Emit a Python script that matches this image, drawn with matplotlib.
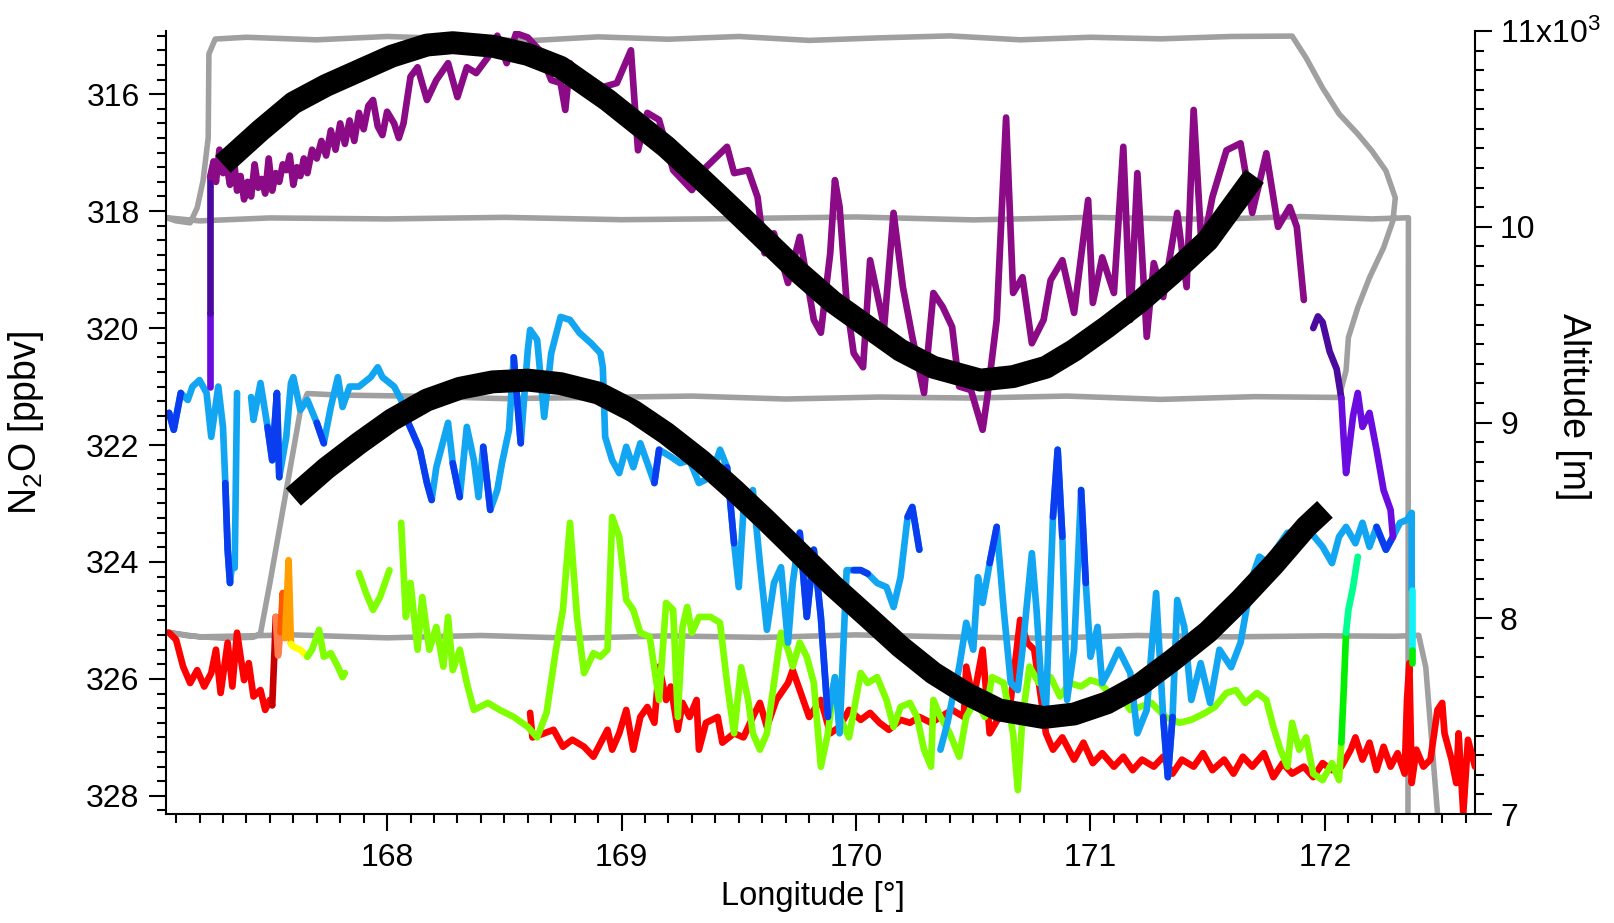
import numpy as np
import matplotlib
matplotlib.use('Agg')
import matplotlib.pyplot as plt
from matplotlib.ticker import MultipleLocator, FixedLocator, FixedFormatter

plt.rcParams['font.family'] = ['Liberation Sans', 'DejaVu Sans']
plt.rcParams['mathtext.fontset'] = 'custom'
plt.rcParams['mathtext.rm'] = 'Liberation Sans'
plt.rcParams['mathtext.it'] = 'Liberation Sans:italic'

nan = np.nan

# --- flight altitude (right axis) ---
gray_lon = [172.354, 172.356,
            172.20, 171.90, 171.50, 171.00, 170.50, 170.00, 169.50, 169.00, 168.50, 168.00, 167.50, 167.20, 167.06,
            167.10, 167.16, 167.19, 167.215, 167.237, 167.24, 167.267,
            167.40, 167.70, 168.00, 168.30, 168.60, 168.90, 169.20, 169.50, 169.80, 170.10, 170.40, 170.70,
            171.00, 171.30, 171.60, 171.86,
            171.92, 171.99, 172.06, 172.14, 172.20, 172.26, 172.30, 172.29, 172.25, 172.19, 172.14, 172.10,
            172.09, 172.06,
            171.70, 171.30, 170.90, 170.50, 170.10, 169.70, 169.30, 168.90, 168.50, 168.10, 167.80, 167.66,
            167.63, 167.57, 167.50, 167.46, 167.43,
            167.30, 167.15, 167.06,
            167.20, 167.60, 168.00, 168.40, 168.80, 169.20, 169.60, 170.00, 170.40, 170.80, 171.20, 171.60,
            172.00, 172.30, 172.40,
            172.43, 172.48, 172.49]
gray_alt = [6900, 10046,
            10040, 10052, 10038, 10048, 10035, 10050, 10042, 10036, 10048, 10040, 10045, 10030, 10046,
            10030, 10020, 10097, 10235, 10454, 10883, 10959,
            10968, 10955, 10972, 10960, 10950, 10970, 10958, 10972, 10952, 10965, 10975, 10955,
            10968, 10960, 10972, 10974,
            10862, 10709, 10577, 10474, 10388, 10286, 10148, 10031, 9893, 9740, 9587, 9434,
            9265, 9128,
            9132, 9118, 9135, 9125, 9130, 9120, 9135, 9128, 9122, 9135, 9140, 9148,
            9061, 8653, 8179, 7923, 7903,
            7898, 7910, 7929,
            7905, 7915, 7900, 7912, 7898, 7910, 7902, 7915, 7905, 7898, 7912, 7905,
            7910, 7908, 7913,
            7750, 7005, 6950]

# --- N2O, upper leg (~11 km) ---
purple_lon = [167.245, 167.26, 167.27, 167.285, 167.30, 167.315, 167.33, 167.345, 167.36, 167.375,
              167.39, 167.405, 167.42, 167.435, 167.45, 167.465, 167.48, 167.495, 167.51, 167.525,
              167.54, 167.555, 167.57, 167.585, 167.60, 167.615, 167.63, 167.645, 167.66, 167.68,
              167.70, 167.72, 167.74, 167.76, 167.78, 167.80, 167.82, 167.84, 167.86, 167.88,
              167.90, 167.92, 167.94, 167.96, 167.98, 168.00, 168.03, 168.05, 168.07, 168.10,
              168.13, 168.17, 168.21, 168.26, 168.30, 168.34, 168.38, 168.43, 168.47, 168.51,
              168.55, 168.60, 168.65, 168.70, 168.74, 168.76, 168.78, 168.85, 168.92, 168.98,
              169.04, 169.07, 169.11, 169.16, 169.22, 169.30, 169.36, 169.45, 169.48, 169.54,
              169.58, 169.61, 169.65, 169.71, 169.76, 169.82, 169.85, 169.89, 169.91, 169.93,
              169.96, 169.99, 170.03, 170.06, 170.12, 170.16, 170.20, 170.24, 170.29, 170.33,
              170.37, 170.41, 170.44, 170.49, 170.54, 170.56, 170.60, 170.64, 170.67, 170.71,
              170.75, 170.80, 170.83, 170.88, 170.93, 170.99, 171.01, 171.05, 171.10, 171.14,
              171.17, 171.20, 171.24, 171.27, 171.31, 171.37, 171.41, 171.44, 171.475, 171.52,
              171.58, 171.64, 171.69, 171.75, 171.80, 171.85, 171.88, 171.91]
purple_n2o = [317.42, 317.15, 317.5, 316.95, 317.35, 317.2, 317.55, 317.05, 317.65, 317.4,
              317.8, 317.5, 317.75, 317.2, 317.6, 317.45, 317.7, 317.1, 317.65, 317.35,
              317.5, 317.2, 317.3, 317.05, 317.55, 317.25, 317.4, 317.1, 317.35, 316.95,
              317.1, 316.8, 317.05, 316.62, 316.95, 316.5, 316.85, 316.45, 316.8, 316.32,
              316.6, 316.2, 316.1, 316.55, 316.7, 316.3, 316.5, 316.75, 316.5, 315.7,
              315.54, 316.1, 315.76, 315.47, 316.05, 315.54, 315.64, 315.37, 315.0, 315.47,
              314.96, 315.03, 315.25, 315.76, 315.81, 316.27, 315.47, 315.81, 315.88, 315.81,
              315.25, 316.96, 316.32, 316.44, 317.3, 317.64, 317.25, 316.9, 317.35, 317.3,
              317.76, 318.72, 318.38, 319.23, 318.44, 319.86, 320.08, 318.72, 317.47, 317.93,
              319.57, 320.43, 320.67, 318.84, 319.98, 318.03, 319.3, 320.15, 321.11, 319.4,
              319.64, 319.98, 321.0, 321.06, 321.74, 321.18, 319.86, 316.4, 319.4, 319.13,
              320.26, 319.86, 319.18, 318.84, 319.74, 317.81, 319.57, 318.79, 319.40, 316.9,
              319.86, 317.35, 320.15, 318.89, 319.47, 318.03, 319.3, 316.27, 318.7, 317.76,
              316.96, 316.84, 318.03, 317.01, 318.27, 317.93, 318.27, 319.52]

# climb at the start and descent at the end of the upper leg
climb_left_lon = [167.245, 167.245, 167.245]
climb_left_n2o = [321.0, 319.74, 317.42]
indigo_lon = [171.95, 171.97, 171.99, 172.02, 172.05, 172.07]
indigo_n2o = [320.0, 319.8, 319.9, 320.4, 320.7, 321.2]
violet_lon = [172.07, 172.08, 172.09, 172.12, 172.14, 172.16, 172.19, 172.22, 172.25, 172.28, 172.29]
violet_n2o = [321.2, 321.9, 322.48, 321.5, 321.11, 321.69, 321.45, 322.08, 322.77, 323.11, 323.57]

# --- N2O, ~10 km leg ---
blue_lon = [167.07, 167.09, 167.12, 167.15, 167.17, 167.20, 167.23, 167.25, 167.28, 167.30, 167.31, 167.32,
            167.33, 167.34, 167.35, 167.36, nan, 167.42, 167.43, 167.46, 167.49, 167.51, 167.53, 167.54,
            167.57, 167.59, 167.60, 167.63, 167.66, 167.70, 167.73, 167.76, 167.79, 167.81, 167.84, 167.88,
            167.93, 167.96, 167.98, 168.03, 168.06, 168.09, 168.11, 168.14, 168.17, 168.19, 168.21, 168.26,
            168.28, 168.31, 168.34, 168.37, 168.39, 168.41, 168.44, 168.47, 168.49, 168.52, 168.54, 168.57,
            168.60, 168.61, 168.64, 168.67, 168.70, 168.74, 168.78, 168.82, 168.87, 168.91, 168.92, 168.93,
            168.96, 168.99, 169.02, 169.05, 169.08, 169.11, 169.14, 169.16, 169.21, 169.25, 169.29, 169.33,
            169.38, 169.42, 169.45, 169.48, 169.50, 169.52, 169.56, 169.59, 169.62, 169.65, 169.68, 169.71,
            169.73, 169.76, 169.79, 169.82, 169.85, 169.88, 169.91, 169.93, 169.96, 169.99, 170.02, 170.05,
            170.09, 170.13, 170.16, 170.19, 170.22, 170.24, 170.27, nan, 170.36, 170.39, 170.41, 170.44,
            170.47, 170.50, 170.52, 170.54, 170.57, 170.60, 170.63, 170.66, 170.69, 170.71, 170.75, 170.77,
            170.79, 170.81, 170.84, 170.86, 170.88, 170.90, 170.93, 170.96, 170.98, 171.00, 171.03, 171.05,
            171.08, 171.12, 171.17, 171.20, 171.24, 171.28, 171.31, 171.33, 171.35, 171.37, 171.40, 171.43,
            171.47, 171.51, 171.55, 171.60, 171.64, 171.67, 171.69, 171.72, 171.76, 171.79, 171.84, 171.88,
            171.93, 171.99, 172.03, 172.06, 172.09, 172.13, 172.16, 172.19, 172.22, 172.26, 172.29, 172.32,
            172.35, 172.37, 172.37]
blue_n2o = [321.45, 321.74, 321.11, 321.23, 321.0, 320.89, 321.11, 321.86, 321.0, 321.69, 322.65, 323.79,
            324.36, 324.0, 324.1, 321.11, nan, 321.18, 321.57, 320.94, 321.69, 322.26, 321.11, 322.55,
            321.86, 320.94, 320.84, 321.4, 321.23, 321.62, 321.97, 321.35, 320.84, 321.35, 321.0, 321.0,
            320.84, 320.67, 320.84, 321.0, 321.23, 321.62, 321.80, 322.08, 322.65, 322.94, 322.38, 321.62,
            322.31, 322.89, 321.69, 322.26, 322.89, 322.03, 323.11, 322.77, 322.31, 321.74, 320.5, 321.97,
            320.38, 320.03, 320.2, 321.52, 320.43, 319.81, 319.86, 320.08, 320.26, 320.43, 320.67, 321.86,
            322.26, 322.48, 322.03, 322.38, 321.97, 322.31, 322.65, 322.08, 322.2, 322.31, 322.26, 322.65,
            322.55, 322.08, 322.38, 323.68, 324.43, 323.11, 322.77, 324.02, 325.16, 324.36, 324.09, 325.38,
            324.36, 323.5, 324.94, 323.79, 324.94, 326.65, 325.97, 326.93, 324.14, 324.14, 324.14, 324.2,
            324.36, 324.43, 324.77, 324.26, 323.23, 323.06, 323.79, nan, 327.21, 326.75, 326.36, 325.8,
            325.04, 325.5, 324.26, 324.7, 324.02, 323.4, 324.82, 326.07, 326.19, 325.5, 323.85, 324.82,
            326.07, 326.53, 323.23, 322.08, 323.57, 326.36, 325.5, 322.77, 324.36, 325.62, 325.11, 326.07,
            325.85, 325.5, 325.9, 326.93, 326.53, 324.53, 326.65, 327.68, 326.65, 324.65, 325.11, 326.36,
            325.73, 326.41, 325.5, 325.8, 325.38, 324.7, 324.26, 323.91, 324.02, 323.79, 323.5, 323.5,
            323.45, 323.74, 324.02, 323.57, 323.4, 323.68, 323.33, 323.74, 323.4, 323.79, 323.57, 323.33,
            323.28, 323.16, 324.48]
blue_dark_spans = [(167.06, 167.13), (167.305, 167.335), (167.48, 167.55), (167.69, 167.74),
                   (168.08, 168.20), (168.27, 168.32), (168.40, 168.45), (168.53, 168.58),
                   (169.13, 169.17), (169.44, 169.49), (169.75, 169.89), (169.98, 170.06),
                   (170.21, 170.28), (170.56, 170.61), (170.83, 170.89), (170.95, 170.99),
                   (171.30, 171.36), (172.21, 172.30)]
cyan_lon = [172.37, 172.37]
cyan_n2o = [324.48, 325.5]

# --- N2O, ~9.1 km leg ---
green_lon = [167.66, 167.68, 167.71, 167.73, 167.76, 167.79, 167.81, 167.82, nan, 167.88, 167.91, 167.94,
             167.97, 168.01, nan, 168.06, 168.08, 168.10, 168.13, 168.15, 168.18, 168.21, 168.24, 168.26,
             168.28, 168.31, 168.34, 168.37, 168.43, 168.48, 168.54, 168.60, 168.64, 168.68, 168.72, 168.75,
             168.78, 168.81, 168.84, 168.88, 168.91, 168.94, 168.96, 168.99, 169.02, 169.05, 169.08, 169.12,
             169.16, 169.19, 169.22, 169.24, 169.26, 169.28, 169.30, 169.33, 169.38, 169.42, 169.45, 169.48,
             169.51, 169.54, 169.56, 169.59, 169.62, 169.65, 169.68, 169.71, 169.73, 169.76, 169.79, 169.82,
             169.85, 169.88, 169.91, 169.93, 169.97, 170.02, 170.05, 170.09, 170.13, 170.16, 170.19, 170.23,
             170.26, 170.29, 170.32, 170.33, 170.36, 170.40, 170.44, 170.47, 170.51, 170.55, 170.58, 170.63,
             170.67, 170.69, 170.71, 170.74, 170.78, 170.81, 170.83, 170.87, 170.91, 170.96, 171.00, 171.04,
             171.08, 171.13, 171.17, 171.21, 171.26, 171.32, 171.38, 171.43, 171.49, 171.53, 171.58, 171.62,
             171.66, 171.71, 171.75, 171.78, 171.81, 171.84, 171.86, 171.89, 171.92, 171.95, 171.99, 172.03,
             172.06, 172.07]
green_n2o = [325.62, 325.5, 325.16, 325.62, 325.56, 325.79, 325.97, 325.9, nan, 324.19, 324.53, 324.82,
             324.6, 324.14, nan, 323.33, 324.94, 324.36, 325.5, 324.6, 325.5, 325.11, 325.79, 324.94,
             325.85, 325.5, 326.07, 326.53, 326.41, 326.53, 326.65, 326.82, 327.0, 326.58, 325.5, 324.82,
             323.33, 324.94, 325.9, 325.56, 325.62, 325.5, 323.23, 323.57, 324.65, 324.82, 325.21, 325.28,
             326.36, 324.7, 324.82, 326.65, 325.11, 324.77, 325.21, 324.94, 324.94, 325.04, 326.07, 326.93,
             325.8, 326.36, 326.93, 327.21, 326.93, 326.07, 325.21, 325.5, 325.79, 325.38, 325.62, 326.07,
             327.5, 326.93, 325.97, 326.65, 327.0, 325.9, 326.07, 325.97, 326.36, 326.82, 326.48, 326.41,
             326.65, 327.21, 327.5, 326.36, 326.65, 326.93, 327.33, 326.65, 326.36, 326.65, 325.97, 326.07,
             326.93, 327.9, 326.65, 325.79, 326.07, 325.97, 325.97, 326.3, 326.07, 326.13, 326.02, 326.07,
             326.24, 326.3, 326.53, 326.48, 326.41, 326.65, 326.75, 326.7, 326.58, 326.48, 326.24, 326.19,
             326.41, 326.24, 326.36, 326.82, 327.21, 327.5, 326.75, 327.21, 327.0, 327.62, 327.73, 327.44,
             327.73, 327.09]
climb_right_lon = [172.07, 172.08, 172.09, 172.10, 172.12, 172.14]
climb_right_n2o = [327.09, 326.2, 325.21, 324.82, 324.43, 323.91]

# --- N2O, ~7.9 km leg ---
red_a_lon = [167.07, 167.10, 167.13, 167.16, 167.19, 167.22, 167.25, 167.27, 167.29, 167.32, 167.34, 167.36,
             167.39, 167.41, 167.43, 167.46, 167.48, 167.50, 167.51]
red_a_n2o = [325.21, 325.33, 325.79, 326.07, 325.85, 326.13, 325.9, 325.5, 326.24, 325.38, 326.13, 325.21,
             326.02, 325.73, 326.3, 326.19, 326.53, 326.36, 326.45]
riser_lon = [167.51, 167.52, 167.525, 167.535, 167.545, 167.555, 167.565, 167.58, 167.59, 167.60, 167.63, 167.66]
riser_n2o = [326.45, 325.5, 324.94, 325.6, 325.2, 324.53, 325.3, 323.97, 325.4, 325.45, 325.5, 325.62]
red_b_lon = [168.61, 168.62, 168.67, 168.71, 168.75, 168.79, 168.84, 168.88, 168.91, 168.94, 168.96, 168.99,
             169.02, 169.05, 169.08, 169.11, 169.14, 169.16, 169.19, 169.21, 169.24, 169.26, 169.29, 169.32,
             169.33, 169.36, 169.41, 169.43, 169.48, 169.52, 169.56, 169.59, 169.62, 169.66, 169.71, 169.73,
             169.76, 169.80, 169.85, 169.89, 169.93, 169.97, 170.02, 170.06, 170.10, 170.14, 170.19, 170.23,
             170.27, 170.32, 170.36, 170.41, 170.46, 170.47, 170.50, 170.54, 170.57, 170.61, 170.66, 170.70,
             170.73, 170.76, 170.78, 170.81, 170.84, 170.88, 170.93, 170.97, 171.01, 171.05, 171.10, 171.14,
             171.18, 171.22, 171.27, 171.31, 171.35, 171.39, 171.44, 171.48, 171.52, 171.57, 171.61, 171.65,
             171.69, 171.74, 171.78, 171.82, 171.86, 171.91, 171.95, 171.99, 172.03, 172.07, 172.11, 172.13,
             172.16, 172.19, 172.22, 172.25, 172.28, 172.31, 172.34, 172.35, 172.36, 172.37, 172.39, 172.42,
             172.45, 172.48, 172.50, 172.51, 172.54, 172.56, 172.57, 172.59, 172.61, 172.64]
red_b_n2o = [326.58, 327.0, 326.93, 326.87, 327.16, 327.04, 327.16, 327.33, 327.1, 326.87, 327.21, 326.93,
             326.53, 327.21, 326.65, 326.48, 326.75, 325.79, 326.36, 326.13, 326.87, 326.41, 326.65, 326.36,
             327.21, 326.75, 326.65, 327.09, 326.93, 327.0, 326.65, 326.41, 326.82, 326.36, 326.07, 325.85,
             326.19, 326.65, 326.36, 326.93, 326.82, 326.53, 326.7, 326.58, 326.75, 326.87, 326.7, 326.75,
             326.65, 326.75, 326.65, 326.53, 326.65, 325.79, 326.36, 325.5, 326.93, 326.65, 326.36, 324.99,
             325.38, 325.5, 326.07, 326.93, 327.21, 327.0, 327.38, 327.09, 327.44, 327.27, 327.5, 327.33,
             327.56, 327.38, 327.5, 327.33, 327.62, 327.38, 327.5, 327.27, 327.56, 327.38, 327.62, 327.33,
             327.5, 327.27, 327.68, 327.44, 327.62, 327.5, 327.68, 327.44, 327.56, 327.5, 327.21, 327.0,
             327.38, 327.09, 327.56, 327.16, 327.5, 327.27, 327.62, 326.36, 325.73, 327.78, 327.21, 327.5,
             327.38, 326.53, 326.41, 326.93, 327.38, 327.78, 326.93, 328.3, 327.04, 327.5]

# --- drawn-over sine curves ---
upper_curve_lon = [167.30, 167.46, 167.60, 167.74, 167.88, 168.02, 168.17, 168.28, 168.45, 168.60, 168.74,
                   168.94, 169.19, 169.34, 169.48, 169.62, 169.76, 169.90, 170.05, 170.19, 170.33, 170.53,
                   170.67, 170.81, 170.93, 171.07, 171.21, 171.35, 171.50, 171.70]
upper_curve_n2o = [317.20, 316.62, 316.15, 315.85, 315.60, 315.35, 315.16, 315.12, 315.18, 315.32, 315.54,
                   316.10, 316.90, 317.45, 317.98, 318.52, 319.06, 319.55, 319.98, 320.38, 320.67, 320.89,
                   320.83, 320.67, 320.38, 319.98, 319.55, 319.06, 318.50, 317.40]
lower_curve_lon = [167.60, 167.74, 167.88, 168.02, 168.17, 168.31, 168.45, 168.60, 168.74, 168.90, 169.05,
                   169.19, 169.34, 169.48, 169.62, 169.76, 169.90, 170.05, 170.19, 170.33, 170.47, 170.61,
                   170.80, 170.93, 171.07, 171.21, 171.35, 171.50, 171.64, 171.78, 171.92, 172.00]
lower_curve_n2o = [322.89, 322.40, 321.97, 321.57, 321.23, 321.03, 320.92, 320.89, 320.95, 321.11, 321.42,
                   321.80, 322.27, 322.77, 323.30, 323.85, 324.40, 324.94, 325.45, 325.90, 326.25, 326.53,
                   326.66, 326.60, 326.41, 326.10, 325.68, 325.20, 324.65, 324.05, 323.40, 323.10]

alt_ticks = [7000, 8000, 9000, 10000, 11000]
alt_labels = ['7', '8', '9', '10', '11x10$^3$']

PURPLE = '#8B0A85'
INDIGO = '#4B0A9E'
VIOLET = '#6A0BE0'
DARKBLUE = '#0A3CF0'
LIGHTBLUE = '#12A6F2'
LW = 4.8


def trace(x, y, color):
    ax.plot(x, y, color=color, lw=LW, solid_joinstyle='round', solid_capstyle='round')


fig = plt.figure(figsize=(16.14, 9.23), dpi=100)
ax = fig.add_axes([0.10285, 0.11809, 0.81103, 0.84832])
ax2 = ax.twinx()
ax.set_zorder(ax2.get_zorder() + 1)
ax.patch.set_visible(False)

ax2.plot(gray_lon, gray_alt, color='#A0A0A0', lw=4.0, solid_joinstyle='round')

# 7.9 km leg
trace(red_a_lon, red_a_n2o, '#FF0000')
trace(riser_lon[0:3], riser_n2o[0:3], '#C80000')
trace(riser_lon[2:5], riser_n2o[2:5], '#FF7F50')
trace(riser_lon[4:7], riser_n2o[4:7], '#FF5A00')
trace(riser_lon[6:9], riser_n2o[6:9], '#FFA000')
trace(riser_lon[8:], riser_n2o[8:], '#FFFF00')
trace(red_b_lon, red_b_n2o, '#FF0000')

# 9.1 km leg
trace(green_lon, green_n2o, '#80FF00')
trace(climb_right_lon[:3], climb_right_n2o[:3], '#00F000')
trace(climb_right_lon[2:], climb_right_n2o[2:], '#00FF90')

# 10 km leg
blue_lon = np.array(blue_lon)
blue_n2o = np.array(blue_n2o)
dark = np.zeros(len(blue_lon), bool)
for a, b in blue_dark_spans:
    dark |= (blue_lon >= a) & (blue_lon <= b)
trace(blue_lon, blue_n2o, LIGHTBLUE)
trace(blue_lon, np.where(dark, blue_n2o, nan), DARKBLUE)
trace(cyan_lon, cyan_n2o, '#10F0F8')
trace([cyan_lon[1], cyan_lon[1]], [cyan_n2o[1], 325.73], '#00F000')

# 11 km leg
trace(climb_left_lon[:2], climb_left_n2o[:2], VIOLET)
trace(climb_left_lon[1:], climb_left_n2o[1:], INDIGO)
trace(purple_lon, purple_n2o, PURPLE)
trace(indigo_lon, indigo_n2o, INDIGO)
trace(violet_lon, violet_n2o, VIOLET)

ax.plot(upper_curve_lon, upper_curve_n2o, color='black', lw=16.5, solid_capstyle='butt',
        solid_joinstyle='round', zorder=10)
ax.plot(lower_curve_lon, lower_curve_n2o, color='black', lw=16.5, solid_capstyle='butt',
        solid_joinstyle='round', zorder=10)

ax.set_xlim(167.057, 172.64)
ax.set_ylim(328.31, 314.92)
ax2.set_ylim(7000, 11000)

ax.xaxis.set_major_locator(MultipleLocator(1))
ax.xaxis.set_minor_locator(MultipleLocator(0.1))
ax.yaxis.set_major_locator(MultipleLocator(2))
ax.yaxis.set_minor_locator(MultipleLocator(0.25))
ax2.yaxis.set_major_locator(FixedLocator(alt_ticks))
ax2.yaxis.set_major_formatter(FixedFormatter(alt_labels))
ax2.yaxis.set_minor_locator(MultipleLocator(100))

for a_ in (ax, ax2):
    a_.tick_params(which='major', direction='out', length=12, width=1.5, labelsize=23)
    a_.tick_params(which='minor', direction='out', length=6.5, width=1.5)
ax.tick_params(axis='y', pad=7)
ax.tick_params(axis='x', pad=9)
ax2.tick_params(axis='y', pad=6)

ax.spines['top'].set_visible(False)
ax.spines['right'].set_visible(False)
for s in ('top', 'left', 'bottom'):
    ax2.spines[s].set_visible(False)
for s in ('left', 'bottom'):
    ax.spines[s].set_linewidth(1.5)
ax2.spines['right'].set_linewidth(1.5)

ax.set_xlabel('Longitude [°]', fontsize=23.5)
ax.xaxis.set_label_coords(0.494, -0.085)
ax.set_ylabel('N$_2$O [ppbv]', fontsize=27)
ax.yaxis.set_label_coords(-0.092, 0.5)
ax2.set_ylabel('Altitude [m]', fontsize=27, rotation=270, va='bottom')
ax2.yaxis.set_label_coords(1.061, 0.52)

fig.savefig('out.png', dpi=100)
